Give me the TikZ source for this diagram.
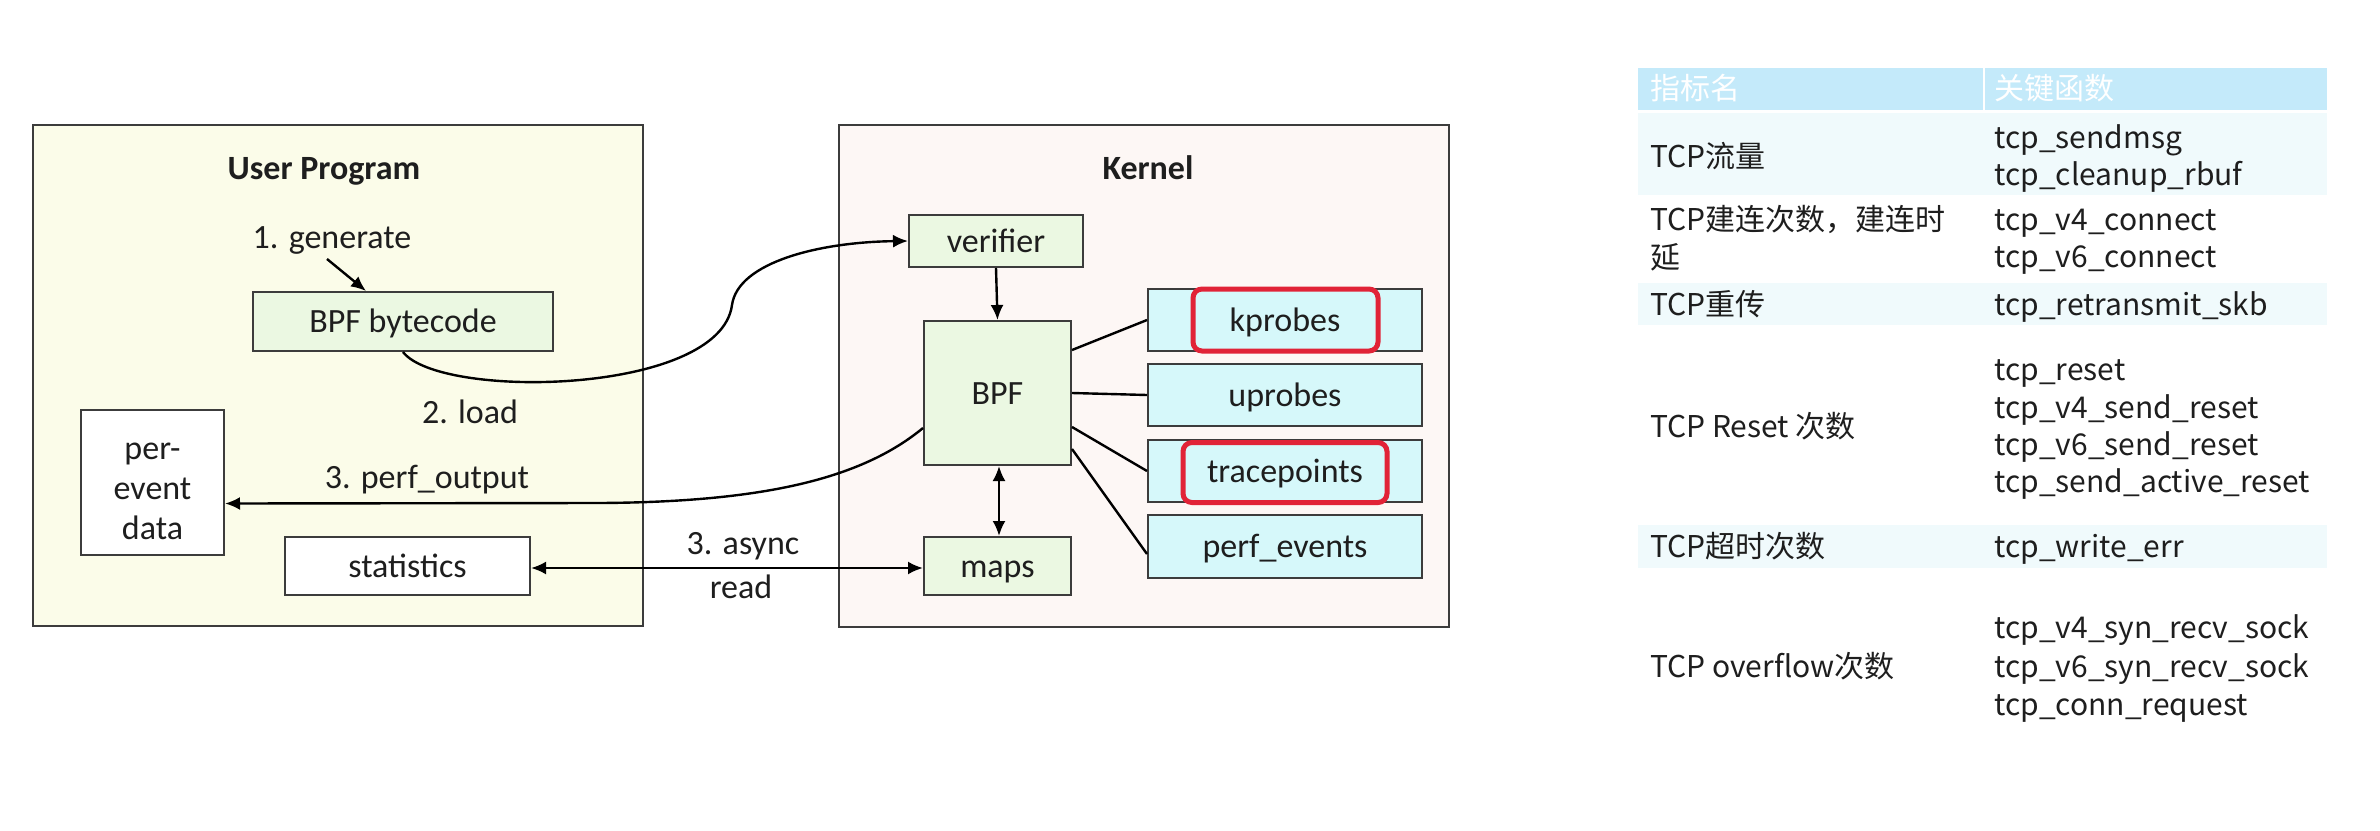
\documentclass[tikz,border=0pt]{standalone}
\usepackage{fontspec}
\setmainfont{Carlito}
\newfontfamily\tabf{Noto Sans CJK SC}
\newfontfamily\zhf{Noto Sans CJK SC}[Scale=1.0]
\usetikzlibrary{arrows.meta,calc}
\definecolor{userbg}{RGB}{251,252,233}
\definecolor{kernbg}{RGB}{253,247,245}
\definecolor{greenbg}{RGB}{235,248,226}
\definecolor{cyanbg}{RGB}{214,248,250}
\definecolor{boxc}{RGB}{60,60,60}
\definecolor{txtc}{RGB}{30,30,30}
\definecolor{hilite}{RGB}{225,35,55}
\definecolor{headbg}{RGB}{196,234,250}
\definecolor{bandbg}{RGB}{240,250,252}
\newcommand\dgmfont{\fontsize{34}{40}\selectfont}
\newcommand\tabsize{\fontsize{30}{36}\selectfont}
\tikzset{
  area/.style={draw=boxc, line width=2pt, inner sep=0pt},
  box/.style={draw=boxc, line width=2pt, inner sep=0pt, font=\dgmfont, text=txtc,
              text height=22pt, text depth=0pt},
  gbox/.style={box, fill=greenbg},
  cbox/.style={box, fill=cyanbg},
  wbox/.style={box, fill=white},
  lbl/.style={font=\dgmfont, text=txtc, inner sep=0pt, text height=22pt, text depth=0pt},
  ttl/.style={lbl, font=\dgmfont\bfseries},
  hl/.style={draw=hilite, line width=5pt, rounded corners=9pt, inner sep=0pt},
  conn/.style={draw=black, line width=2.4pt},
  arr/.style={conn, -{Latex[length=15pt,width=13pt]}},
  darr/.style={conn, {Latex[length=15pt,width=13pt]}-{Latex[length=15pt,width=13pt]}},
  tcell/.style={anchor=west, inner sep=0pt, text=txtc, font=\tabsize\tabf,
                text height=21pt, text depth=0pt},
  thead/.style={anchor=west, inner sep=0pt, text=white, font=\tabsize\zhf,
                text height=21pt, text depth=0pt}
}
\begin{document}
\begin{tikzpicture}[x=1pt,y=-1pt]
\useasboundingbox (0,0) rectangle (2380,830);
\fill[white] (0,0) rectangle (2380,830);

% ---------- areas ----------
\node[area, fill=userbg, minimum width=610pt, minimum height=501pt] (user) at (338,375.5) {};
\node[area, fill=kernbg, minimum width=610pt, minimum height=502pt] (kern) at (1144,376) {};
\node[ttl] (usert) at (324,168) {User Program};
\node[ttl] (kernt) at (1148,168) {Kernel};

% ---------- user side ----------
\node[lbl] (gen) at (332,237) {1. generate};
\node[gbox, minimum width=300pt, minimum height=59pt] (bc) at (403,321.5) {BPF bytecode};
\node[wbox, minimum width=143pt, minimum height=145pt] (pe) at (152.5,482.5) {};
\node[font=\dgmfont, text=txtc, align=center, inner sep=0pt] (petxt) at (152.5,491.5) {per-\\event\\data};
\node[wbox, minimum width=245pt, minimum height=58pt] (st) at (407.5,566) {statistics};
\node[lbl] (load) at (470,412) {2. load};
\node[lbl] (perf) at (427,477) {3. perf\_output};
\node[lbl] (async) at (743,543) {3. async};
\node[lbl] (read) at (741,587) {read};

% ---------- kernel side ----------
\node[gbox, minimum width=174pt, minimum height=52pt] (ver) at (996,241) {verifier};
\node[gbox, minimum width=147pt, minimum height=144pt] (bpf) at (997.5,393) {BPF};
\node[gbox, minimum width=147pt, minimum height=58pt] (maps) at (997.5,566) {maps};
\node[cbox, minimum width=274pt, minimum height=62pt] (kp) at (1285,320) {kprobes};
\node[cbox, minimum width=274pt, minimum height=62pt] (up) at (1285,395) {uprobes};
\node[cbox, minimum width=274pt, minimum height=62pt] (tp) at (1285,471) {tracepoints};
\node[cbox, minimum width=274pt, minimum height=63pt] (pev) at (1285,546.5) {perf\_events};
\node[hl, minimum width=185pt, minimum height=62pt] (kphl) at (1285.5,320) {};
\node[hl, minimum width=204pt, minimum height=60pt] (tphl) at (1285,472.5) {};

% ---------- connectors ----------
\coordinate (g1) at (327,259);
\draw[arr] (g1) -- ($(bc.north west)+(114,0)$);
\draw[arr] (bc.south) .. controls (440,400) and (720,395) .. (732,305)
                      .. controls (738,262) and (820,242) .. (ver.west);
\draw[arr] ($(bpf.west)+(0,35)$) .. controls (860,480) and (760,502) .. (600,503)
                      -- ($(pe.east)+(0,21)$);
\draw[arr] (ver.south) -- (bpf.north);
\draw[darr] ($(bpf.south)+(1.5,0)$) -- ($(maps.north)+(1.5,0)$);
\draw[darr] ($(st.east)+(0,2)$) -- ($(maps.west)+(0,2)$);
\draw[conn] ($(bpf.east)+(0,-43)$) -- (kp.west);
\draw[conn] (bpf.east) -- (up.west);
\draw[conn] ($(bpf.east)+(0,34)$) -- (tp.west);
\draw[conn] ($(bpf.east)+(0,56)$) -- ($(pev.west)+(0,7.5)$);

% ---------- table ----------
\fill[headbg] (1638,68) rectangle (2327,110);
\draw[white, line width=2pt] (1984,68) -- (1984,110);
\fill[bandbg] (1638,113) rectangle (2327,195);
\fill[bandbg] (1638,283) rectangle (2327,325);
\fill[bandbg] (1638,525) rectangle (2327,568);
\node[thead] (h1) at (1650,89) {指标名};
\node[thead] (h2) at (1994,89) {关键函数};

\node[tcell] (r1a) at (1650,157) {TCP{\zhf 流量}};
\node[tcell] (r1b) at (1994,138) {tcp\_sendmsg};
\node[tcell] (r1c) at (1994,175) {tcp\_cleanup\_rbuf};

\node[tcell] (r2a) at (1650,220) {TCP{\zhf 建连次数，建连时}};
\node[tcell] (r2a2) at (1650,258) {{\zhf 延}};
\node[tcell] (r2b) at (1994,220) {tcp\_v4\_connect};
\node[tcell] (r2c) at (1994,257) {tcp\_v6\_connect};

\node[tcell] (r3a) at (1650,305) {TCP{\zhf 重传}};
\node[tcell] (r3b) at (1994,305) {tcp\_retransmit\_skb};

\node[tcell] (r4a) at (1650,427) {TCP Reset {\zhf 次数}};
\node[tcell] (r4b) at (1994,370) {tcp\_reset};
\node[tcell] (r4c) at (1994,408) {tcp\_v4\_send\_reset};
\node[tcell] (r4d) at (1994,445) {tcp\_v6\_send\_reset};
\node[tcell] (r4e) at (1994,482) {tcp\_send\_active\_reset};

\node[tcell] (r5a) at (1650,547) {TCP{\zhf 超时次数}};
\node[tcell] (r5b) at (1994,547) {tcp\_write\_err};

\node[tcell] (r6a) at (1650,667) {TCP overflow{\zhf 次数}};
\node[tcell] (r6b) at (1994,628) {tcp\_v4\_syn\_recv\_sock};
\node[tcell] (r6c) at (1994,667) {tcp\_v6\_syn\_recv\_sock};
\node[tcell] (r6d) at (1994,705) {tcp\_conn\_request};
\end{tikzpicture}
\end{document}
